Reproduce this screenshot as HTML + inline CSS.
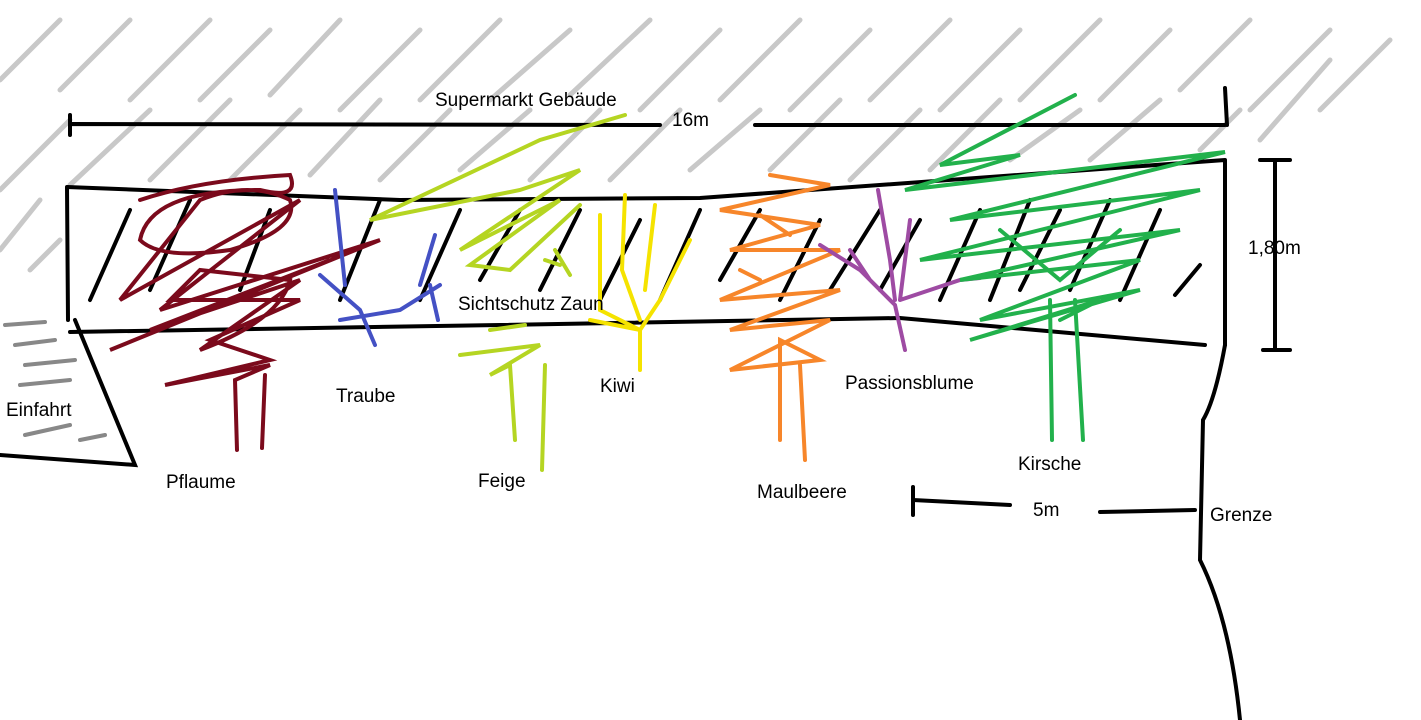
<!DOCTYPE html>
<html><head><meta charset="utf-8"><style>
html,body{margin:0;padding:0;background:#fff;}
svg{display:block;}
text{font-family:"Liberation Sans",sans-serif;font-size:19px;fill:#000;}
</style></head><body>
<svg width="1421" height="720" viewBox="0 0 1421 720" xmlns="http://www.w3.org/2000/svg">
<g stroke="#c8c8c8" stroke-width="5" stroke-linecap="round" fill="none">
<path d="M60 20 L0 80 M130 20 L60 90 M210 20 L130 100 M270 30 L200 100 M340 20 L270 95 M420 30 L340 110 M500 20 L420 100 M570 30 L490 100 M650 20 L570 95 M720 30 L640 110 M800 20 L720 100 M870 30 L790 110 M950 20 L870 100 M1020 30 L940 110 M1100 20 L1020 100 M1170 30 L1100 100 M1250 20 L1180 90 M1330 30 L1250 110 M1390 40 L1320 110"/>
<path d="M70 120 L0 190 M150 110 L70 185 M230 100 L150 180 M300 110 L230 180 M380 100 L310 175 M450 110 L380 180 M530 110 L460 170 M600 110 L530 180 M680 110 L610 180 M760 110 L690 170 M840 100 L770 170 M920 110 L850 180 M1000 100 L930 170 M1080 110 L1010 160 M1160 100 L1090 160 M1240 110 L1200 150 M1330 60 L1260 140"/>
<path d="M40 200 L0 250 M60 240 L30 270"/>
</g>
<g stroke="#000" stroke-width="4" stroke-linecap="round" fill="none">
<path d="M70 115 L70 135 M72 124 L660 125 M755 125 L1225 125 M1225 88 L1227 125"/>
<path d="M67 187 L400 200 L700 198 L1225 160 M67 187 L68 320 M70 332 L500 325 L900 318 L1205 345 M1225 160 L1225 345"/>
<path d="M1260 160 L1290 160 M1275 160 L1275 350 M1263 350 L1290 350"/>
<path d="M75 320 Q100 380 135 465 L0 455"/>
<path d="M1225 345 Q1215 400 1203 420 L1200 560 Q1230 620 1240 720"/>
<path d="M913 487 L913 515 M913 500 L1010 505 M1100 512 L1195 510"/>
<path d="M130 210 L90 300 M190 200 L150 290 M270 210 L240 290 M380 200 L340 300 M460 210 L420 300 M520 210 L480 280 M580 210 L540 290 M640 220 L600 300 M700 210 L660 300 M760 210 L720 280 M820 220 L780 300 M880 210 L830 290 M920 220 L880 290 M980 210 L940 300 M1030 200 L990 300 M1060 210 L1020 290 M1110 200 L1070 290 M1160 210 L1120 300 M1200 265 L1175 295"/>
</g>
<g stroke="#888" stroke-width="4" stroke-linecap="round" fill="none">
<path d="M5 325 L45 322 M15 345 L55 340 M25 365 L75 360 M20 385 L70 380 M25 435 L70 425 M80 440 L105 435"/>
</g>
<g stroke="#7b0a1c" stroke-width="4" fill="none" stroke-linecap="round">
<path d="M140 200 Q200 180 290 175 Q300 200 260 190 Q150 190 140 240 Q160 260 230 250 Q300 230 290 200 Q250 180 200 200 L120 300 L300 200 L160 310 L380 240 L110 350 L330 260 L150 330 L300 280 L200 350 Q280 320 290 280 L200 270 L170 300 L300 300 L210 340 L270 360 L165 385 L270 365 L235 380 L237 450 M265 375 L262 448"/>
</g>
<g stroke="#4451c4" stroke-width="4" fill="none" stroke-linecap="round">
<path d="M335 190 L345 285 M320 275 L360 310 L375 345 M340 320 L400 310 L440 285 M435 235 L420 285 M430 285 L438 320"/>
</g>
<g stroke="#b5d522" stroke-width="4" fill="none" stroke-linecap="round">
<path d="M625 115 L540 140 L370 220 L520 190 L580 170 L460 250 L560 200 L470 265 L510 270 L580 205 M555 250 L570 275 M545 260 L560 265 M460 355 L540 345 L490 375 L510 365 L515 440 M545 365 L542 470 M490 330 L525 325"/>
</g>
<g stroke="#f5e300" stroke-width="4" fill="none" stroke-linecap="round">
<path d="M600 215 L600 310 L640 330 L660 300 L690 240 M625 195 L622 270 L640 320 M655 205 L645 290 M590 320 L640 330 L640 370"/>
</g>
<g stroke="#f7862a" stroke-width="4" fill="none" stroke-linecap="round">
<path d="M770 175 L830 185 L720 210 L820 225 L730 250 L840 250 L720 300 L840 290 L730 330 L830 320 L730 370 L820 360 L780 340 L780 440 M800 365 L805 460 M760 215 L790 235 M740 270 L760 280"/>
</g>
<g stroke="#9e4ba3" stroke-width="4" fill="none" stroke-linecap="round">
<path d="M820 245 L860 270 L895 305 L905 350 M878 190 L890 260 L895 300 M910 220 L900 300 M900 300 L960 280 L980 278 M850 250 L870 280"/>
</g>
<g stroke="#22b14c" stroke-width="4" fill="none" stroke-linecap="round">
<path d="M1075 95 L940 165 L1020 155 L905 190 L1225 152 L950 220 L1200 190 L920 260 L1180 230 L960 280 L1140 260 L980 320 L1140 290 L970 340 L1100 300 L1060 320 M1050 300 L1052 440 M1075 300 L1083 440 M1000 230 L1060 280 L1120 230"/>
</g>
<text x="435" y="106">Supermarkt Gebäude</text>
<text x="672" y="126">16m</text>
<text x="1248" y="254">1,80m</text>
<text x="458" y="310">Sichtschutz Zaun</text>
<text x="6" y="416">Einfahrt</text>
<text x="336" y="402">Traube</text>
<text x="600" y="392">Kiwi</text>
<text x="845" y="389">Passionsblume</text>
<text x="166" y="488">Pflaume</text>
<text x="478" y="487">Feige</text>
<text x="757" y="498">Maulbeere</text>
<text x="1018" y="470">Kirsche</text>
<text x="1033" y="516">5m</text>
<text x="1210" y="521">Grenze</text>
</svg>
</body></html>
